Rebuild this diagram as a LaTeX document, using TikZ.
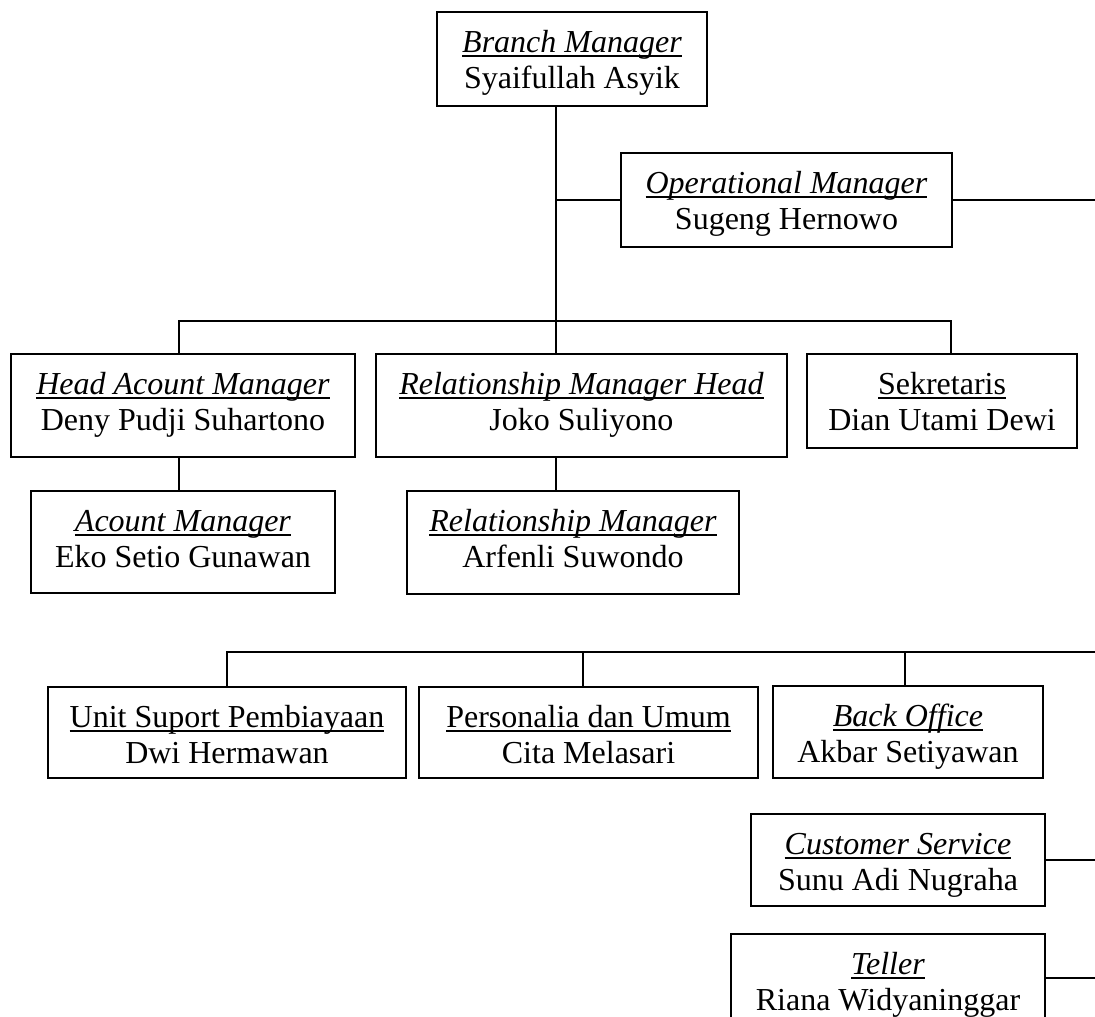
\documentclass[tikz,border=0pt]{standalone}
\usepackage{fontspec}
\setmainfont{Liberation Serif}
\newcommand\fsz{\fontsize{32}{36}\selectfont}
\newsavebox\ulbox
\newcommand\myul[1]{\sbox\ulbox{#1}\rlap{\rule[-4.3pt]{\wd\ulbox}{2pt}}\usebox\ulbox}
\newcommand\topstrut{\rule{0pt}{24pt}}
\tikzset{
  box/.style={draw, line width=1.7pt, inner sep=0pt},
  tx/.style={anchor=north, align=center, inner sep=0pt, font=\fsz},
  conn/.style={line width=1.7pt}
}
\begin{document}
\begin{tikzpicture}[x=1pt,y=-1pt]
\useasboundingbox (0,0) rectangle (1095,1017);
\fill[white] (0,0) rectangle (1095,1017);
\clip (0,0) rectangle (1095,1017);
% boxes
\node[box, minimum width=270pt, minimum height=94pt]  (bm)  at (572,59) {};
\node[box, minimum width=331pt, minimum height=94pt]  (om)  at (786.5,200) {};
\node[box, minimum width=344pt, minimum height=103pt] (ham) at (183,405.5) {};
\node[box, minimum width=411pt, minimum height=103pt] (rmh) at (581.5,405.5) {};
\node[box, minimum width=270pt, minimum height=94pt]  (sek) at (942,401) {};
\node[box, minimum width=304pt, minimum height=102pt] (am)  at (183,542) {};
\node[box, minimum width=332pt, minimum height=103pt] (rm)  at (573,542.5) {};
\node[box, minimum width=358pt, minimum height=91pt]  (usp) at (227,732.5) {};
\node[box, minimum width=339pt, minimum height=91pt]  (pdu) at (588.5,732.5) {};
\node[box, minimum width=270pt, minimum height=92pt]  (bo)  at (908,732) {};
\node[box, minimum width=294pt, minimum height=92pt]  (cs)  at (898,860) {};
\node[box, minimum width=314pt, minimum height=88pt]  (tel) at (888,978) {};
% texts
\node[tx] (bmT)  at ([yshift=-17pt]bm.north)  {\topstrut\myul{\textit{Branch Manager}}\\Syaifullah Asyik};
\node[tx] (omT)  at ([yshift=-17pt]om.north)  {\topstrut\myul{\textit{Operational Manager}}\\Sugeng Hernowo};
\node[tx] (hamT) at ([yshift=-17pt]ham.north) {\topstrut\myul{\textit{Head Acount Manager}}\\Deny Pudji Suhartono};
\node[tx] (rmhT) at ([yshift=-17pt]rmh.north) {\topstrut\myul{\textit{Relationship Manager Head}}\\Joko Suliyono};
\node[tx] (sekT) at ([yshift=-17pt]sek.north) {\topstrut\myul{Sekretaris}\\Dian Utami Dewi};
\node[tx] (amT)  at ([yshift=-17pt]am.north)  {\topstrut\myul{\textit{Acount Manager}}\\Eko Setio Gunawan};
\node[tx] (rmT)  at ([yshift=-17pt]rm.north)  {\topstrut\myul{\textit{Relationship Manager}}\\Arfenli Suwondo};
\node[tx] (uspT) at ([yshift=-17pt]usp.north) {\topstrut\myul{Unit Suport Pembiayaan}\\Dwi Hermawan};
\node[tx] (pduT) at ([yshift=-17pt]pdu.north) {\topstrut\myul{Personalia dan Umum}\\Cita Melasari};
\node[tx] (boT)  at ([yshift=-17pt]bo.north)  {\topstrut\myul{\textit{Back Office}}\\Akbar Setiyawan};
\node[tx] (csT)  at ([yshift=-17pt]cs.north)  {\topstrut\myul{\textit{Customer Service}}\\Sunu Adi Nugraha};
\node[tx] (telT) at ([yshift=-17pt]tel.north) {\topstrut\myul{\textit{Teller}}\\Riana Widyaninggar};
% helper coordinates
\coordinate (trunk) at (556,0);
\coordinate (barL) at (179,321);
\coordinate (barR) at (951,321);
\coordinate (omR) at (1095,200);
\coordinate (bar2L) at (227,652);
\coordinate (bar2R) at (1095,652);
\coordinate (pduX) at (583,652);
\coordinate (boX) at (905,652);
\coordinate (csR) at (1095,860);
\coordinate (telR) at (1095,978);
% connectors
\draw[conn] (bm.south -| trunk) -- (rmh.north -| trunk);
\draw[conn] (om.west) -- (om.west -| trunk);
\draw[conn] (om.east) -- (omR);
\draw[conn] (ham.north -| barL) -- (barL) -- (barR) -- (sek.north -| barR);
\draw[conn] (ham.south -| barL) -- (am.north -| barL);
\draw[conn] (rmh.south -| trunk) -- (rm.north -| trunk);
\draw[conn] (usp.north -| bar2L) -- (bar2L) -- (bar2R);
\draw[conn] (pduX) -- (pdu.north -| pduX);
\draw[conn] (boX) -- (bo.north -| boX);
\draw[conn] (cs.east) -- (csR);
\draw[conn] (tel.east) -- (telR);
\end{tikzpicture}
\end{document}
